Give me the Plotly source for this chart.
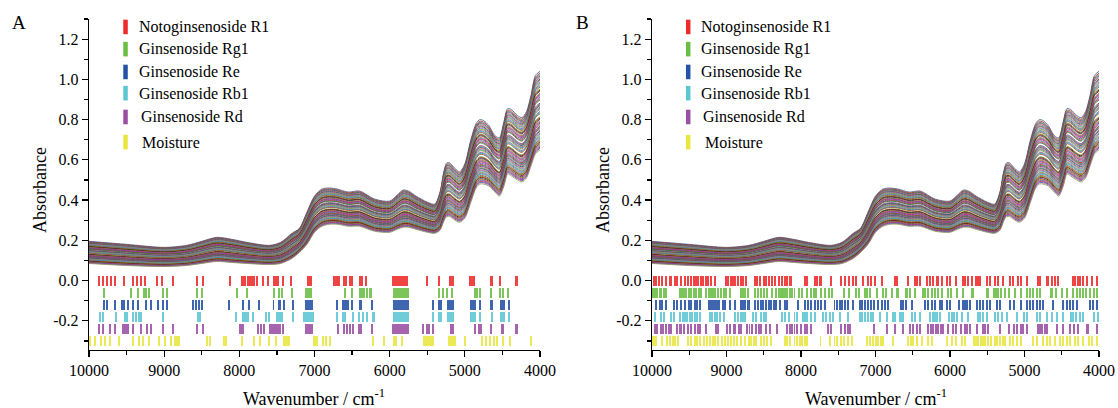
import plotly.graph_objects as go

# ---------------- spectra envelope ----------------
wn_knots = [10000, 9500, 9000, 8700, 8500, 8300, 8100, 7900, 7600, 7450, 7300, 7200, 7100, 7000,
            6900, 6800, 6700, 6550, 6400, 6200, 6000, 5900, 5820, 5750, 5650, 5500, 5400, 5330,
            5280, 5240, 5200, 5150, 5070, 5000, 4920, 4850, 4800, 4750, 4680, 4600, 4540, 4480, 4430,
            4380, 4300, 4240, 4180, 4120, 4060, 4000]
upper = [0.195, 0.18, 0.165, 0.175, 0.195, 0.215, 0.205, 0.19, 0.175, 0.19, 0.235, 0.26, 0.34, 0.42,
         0.455, 0.46, 0.455, 0.44, 0.445, 0.405, 0.395, 0.425, 0.45, 0.445, 0.42, 0.39, 0.38, 0.44,
         0.54, 0.585, 0.585, 0.565, 0.54, 0.58, 0.70, 0.78, 0.80, 0.795, 0.77, 0.72, 0.71, 0.79, 0.855,
         0.85, 0.82, 0.81, 0.84, 0.92, 1.02, 1.04]
lower = [0.085, 0.075, 0.07, 0.075, 0.085, 0.095, 0.09, 0.085, 0.08, 0.085, 0.11, 0.14, 0.18, 0.24,
         0.27, 0.28, 0.28, 0.27, 0.27, 0.245, 0.24, 0.255, 0.265, 0.265, 0.255, 0.24, 0.235, 0.25,
         0.295, 0.318, 0.318, 0.305, 0.29, 0.31, 0.39, 0.46, 0.48, 0.48, 0.47, 0.44, 0.42, 0.47, 0.53,
         0.52, 0.50, 0.49, 0.51, 0.57, 0.63, 0.65]
# relative position of each sample spectrum inside the band (0 = lowest, 1 = highest)
sample_pos = [1.0, 0.975, 0.955, 0.94, 0.92, 0.90, 0.885, 0.865, 0.85, 0.83, 0.815, 0.80, 0.775,
              0.76, 0.745, 0.72, 0.705, 0.69, 0.67, 0.65, 0.635, 0.595, 0.58, 0.565, 0.545, 0.53,
              0.515, 0.49, 0.475, 0.46, 0.42, 0.405, 0.39, 0.37, 0.355, 0.34, 0.32, 0.30, 0.285,
              0.27, 0.25, 0.235, 0.215, 0.20, 0.18, 0.165, 0.15, 0.13, 0.115, 0.10, 0.08, 0.065,
              0.05, 0.035, 0.02, 0.0]

# ---------------- selected variables (wavenumbers; [a, b] = block) ----------------
groups = ["Notoginsenoside R1", "Ginsenoside Rg1", "Ginsenoside Re",
          "Ginsenoside Rb1", "Ginsenoside Rd", "Moisture"]

R1_A = [9863, 9810, 9765, 9711, 9654, 9530, 9411, 9358, 9308, 9251, 9100, 9033, 8887, 8568, 8480, 8130,
        [7975, 7910], 7885, 7860, 7830, 7800, 7760, 7690, 7615, [7555, 7470], 7424, 7310, [7105, 7030],
        [6750, 6662], [6627, 6573], [6540, 6485], [6405, 6361], 6320, [5975, 5750], 5509, 5340,
        [5208, 5146], [4940, 4860], [4665, 4625], 4534, [4335, 4295]]
Rg1_A = [9797, 9443, 9342, 9266, 9245, 9198, 9012, 8960, 8558, 8500, 8036, 7900, 7535, 7470, 7428, 7298,
         [7125, 7030], 6596, 6507, [6405, 6361], 6338, 6307, [6272, 6241], [5953, 5740], 5346, 5290,
         5242, 5176, 4870, 4835, 4795, 4650, 4534, 4490, 4425]
Re_A = [9796, 9765, 9650, 9561, 9530, 9486, 9410, 9353, 9242, 9176, 9087, 9020, 8967, 8622, 8577, 8542,
        8502, 8134, [7965, 7934], 7868, 7744, [7558, 7535], [7491, 7447], 7402, 7291, [7123, 7017], 6706,
        [6640, 6573], 6551, 6507, [6405, 6374], 6241, [5962, 5740], 5421, [5354, 5310], [5243, 5146],
        [4933, 4845], 4800, [4667, 4623], [4534, 4468], 4410]
Rb1_A = [9854, 9809, 9641, [9530, 9486], 9410, 9375, 9340, 9309, 9012, [8568, 8511], 8045, [7965, 7877],
         7823, 7646, 7602, [7513, 7425], 7291, [7158, 7003], 6706, [6640, 6582], [6507, 6471], 6405, 6352,
         6307, [6241, 6197], [5962, 5740], 5421, [5354, 5310], [5235, 5146], [4933, 4845], 4800, 4645,
         [4534, 4468], 4410]
Rd_A = [9872, 9809, 9721, 9650, [9561, 9473], 9410, 9309, 9233, 9176, 9020, 8878, 8568, 8480,
        [8001, 7934], 7757, 7713, 7668, [7611, 7447], 7416, [7123, 7017], 6684, 6609, 6564, 6529, 6494,
        [6418, 6374], 6241, [5975, 5740], 5554, 5509, 5474, 5430, [5199, 5146], [4875, 4858],
        [4822, 4778], 4654, 4499, [4335, 4290]]
Moist_A = [9987, 9920, 9840, 9783, 9721, 9606, 9410, 9330, 9280, 9207, 9065, 8985, 8910, [8865, 8790],
           8435, 8391, [8214, 8170], 7967, 7808, 7720, 7611, 7515, [7416, 7327], [7017, 6950], 6890,
           6845, 6800, 6222, 6070, [5958, 5908], 5842, [5554, 5415], [5221, 5120], 4999, 4770, 4720,
           4670, 4615, 4578, 4490, 4395, [4135, 4113]]

R1_B = [9973, 9942, 9911, 9866, 9808, 9763, 9741, 9687, 9660, 9607, 9562, 9517, 9472, 9437, 9405, 9383,
        9338, 9316, 9271, 9249, 9204, 9159, 9003, 8980, 8935, 8913, 8882, 8846, 8801, 8779, 8734, 8622,
        8587, 8555, 8497, 8466, 8434, 8390, 8354, 8296, 8255, 8220, 8184, 8153, 8130, 7942, 7915, 7817,
        7781, 7750, 7728, 7602, 7459, 7414, 7361, 7302, 7258, 7168, 7101, 7065, 7010, 6917, 6738, 6716,
        6559, 6470, 6448, 6403, 6313, 6269, 6224, 6179, 6157, 6112, 6045, 6000, 5920, 5830, 5799, 5754,
        5709, 5651, 5620, 5598, 5508, 5463, 5396, 5352, 5293, 5195, 5150, 5083, 5052, 4971, 4815, 4792,
        4703, 4680, 4636, 4591, 4546, 4345, 4323, 4278, 4255, 4211, 4166, 4099, 4032]
Rg1_B = [9990, 9987, 9956, 9929, 9897, 9875, 9839, 9808, 9629, 9598, 9571, 9539, 9508, 9472, 9437, 9405,
         9374, 9338, 9271, 9240, 9213, 9182, 9150, 9114, 9079, 9034, 9003, 8958, 8810, 8779, 8748, 8712,
         8622, 8578, 8542, 8497, 8452, 8390, 8332, 8300, 8273, 8242, 8211, 8184, 8153, 8121, 8086, 8032,
         7987, 7915, 7862, 7830, 7795, 7728, 7674, 7629, 7584, 7423, 7361, 7258, 7226, 7146, 7110, 7079,
         6976, 6895, 6859, 6783, 6716, 6694, [6604, 6559], 6537, 6470, 6358, 6336, 6291, 6246, 6202,
         6157, 6112, 6023, 5991, 5902, 5830, 5709, 5687, 5508, 5486, 5410, 5383, 5352, 5320, 5262, 5204,
         5128, 5052, 4971, 4926, 4882, 4837, 4792, [4658, 4614], 4578, 4501, 4434, 4345, 4300, 4255,
         4211, 4175, 4121, 4067, 4032]
Re_B = [9942, 9897, 9866, 9808, 9705, 9660, 9607, 9562, 9508, 9472, 9428, 9392, 9360, 9240, 9213, 9182,
        9159, 9128, 9101, 9047, 9016, 8958, 8882, 8801, 8779, 8748, 8712, 8690, 8613, 8578, 8542, 8510,
        8466, 8434, 8399, 8363, 8332, 8287, 8220, 8184, 8041, 7942, 7907, 7871, 7817, 7772, 7728, 7683,
        7549, 7517, 7481, 7450, 7414, 7370, 7302, 7213, 7182, 7146, 7101, 7065, 7021, 6962, 6917, 6873,
        6828, 6662, 6627, 6591, 6515, 6336, 6291, 6246, 6202, 6134, 6112, 6036, 6000, 5875, 5830, 5799,
        5768, 5732, 5642, 5598, 5553, 5508, 5463, 5374, 5330, 5195, 5141, 5052, 4971, 4926, 4882, 4837,
        4792, 4748, [4625, 4600], 4479, 4434, 4390, 4345, 4300, 4121, 4077, 4032]
Rb1_B = [9965, 9875, 9839, 9741, 9705, 9629, 9585, 9562, 9526, 9495, 9463, 9428, 9396, 9360, 9226, 9195,
         9159, 9124, 9092, 9034, 8882, 8846, 8801, 8779, 8748, 8645, 8600, 8533, 8497, 8466, 8255, 8211,
         8166, 8086, 8050, 7974, 7951, 7915, 7862, 7808, 7705, 7660, 7616, 7571, 7481, 7369, 7213, 7182,
         7146, 7101, 7065, 7034, 6940, 6841, 6770, 6738, 6671, 6649, 6627, 6515, 6470, 6403, 6269, 6233,
         6202, 6170, 6134, 6009, 5978, 5946, 5911, 5844, 5754, 5620, 5598, 5553, 5508, 5396, 5352, 5307,
         5231, 5105, 5007, 4971, 4837, 4792, 4703, 4636, 4569, 4479, 4381, 4345, 4309, 4255, 4211, 4067,
         4009]
Rd_B = [9956, 9929, 9884, 9852, 9808, 9776, 9741, 9660, 9629, 9607, 9571, 9517, 9481, 9428, 9383, 9360,
        9271, 9137, 9114, 8989, 8958, 8900, 8882, 8837, 8801, 8721, 8690, 8658, 8600, 8569, 8533, 8466,
        8421, 8318, 8184, 8153, 8121, 8086, 8050, 7996, 7951, 7915, 7862, 7638, 7602, 7459, 7414, 7370,
        7347, 7020, 6850, 6738, 6627, 6537, 6492, 6448, 6403, 6291, 6260, 6224, 6188, 6157, 6125, 6099,
        6023, 5964, 5920, 5857, 5799, 5768, 5732, 5642, 5553, 5531, 5486, 5329, 5204, 5141, 5097, 5052,
        5016, 4971, 4815, 4792, 4770, 4725, 4703, 4569, 4479, 4390, 4336, 4278, 4166, 4144, 4032]
Moist_B = [9990, 9973, 9942, 9866, 9795, 9763, 9718, 9696, 9651, 9517, 9481, 9428, 9392, 9360, 9302, 9258,
           9226, 9182, 9150, 9114, 9061, 9016, 8980, 8936, 8900, 8855, 8810, 8757, 8703, 8667, 8631, 8600,
           8533, 8497, 8452, 8408, 8220, 8184, 8153, 8086, 8050, 8018, 7987, 7951, 7915, 7737, 7616, 7549,
           7513, 7468, 7423, 7369, 7316, 7110, 7079, 7034, 6993, 6962, 6931, 6895, 6770, 6559, 6528, 6492,
           6448, 6381, 6291, 6246, 6045, 5978, 5920, 5844, 5799, 5678, 5651, 5620, 5589, 5553, 5531, 5486,
           5455, 5396, 5365, 5329, 5293, 5262, 5195, 5150, 5105, 5052, 4882, 4837, 4748, 4703, 4658, 4591,
           4524, 4479, 4426, 4390, 4323, 4278, 4211, 4130, 4099, 4032]

rows_A = [R1_A, Rg1_A, Re_A, Rb1_A, Rd_A, Moist_A]
rows_B = [R1_B, Rg1_B, Re_B, Rb1_B, Rd_B, Moist_B]

x_ticks = [10000, 9000, 8000, 7000, 6000, 5000, 4000]
x_tick_text = ["10000", "9000", "8000", "7000", "6000", "5000", "4000"]
y_ticks = [-0.2, 0.0, 0.2, 0.4, 0.6, 0.8, 1.0, 1.2]
y_tick_text = ["-0.2", "0.0", "0.2", "0.4", "0.6", "0.8", "1.0", "1.2"]

# ---------------- styling ----------------
FONT = "Liberation Serif, Times New Roman, serif"
group_colors = ["#EE2B2B", "#6BBE45", "#2452A4", "#5CC6D3", "#9A4FA3", "#E9E63F"]
line_colors = ["#4a6a9a", "#b22222", "#2f7f3f", "#7d3c98", "#8b6f47", "#1f4e79", "#c0504d",
               "#4f81bd", "#7f9f3f", "#8064a2", "#2a9db8", "#a0522d", "#6b8e23", "#800000",
               "#2e4057", "#b5651d", "#5f5f8f", "#c71585"]
row_center = [0.0, -0.06, -0.12, -0.18, -0.24, -0.30]
row_h = 0.05

fig = go.Figure()

def bars_of(items, thin):
    xs, ws = [], []
    for it in items:
        if isinstance(it, list):
            a, b = it
            xs.append((a + b) / 2.0)
            ws.append(abs(a - b))
        else:
            xs.append(it)
            ws.append(thin)
    return xs, ws

panels = [("x", "y", rows_A, 27), ("x2", "y2", rows_B, 24)]
for xa, ya, rows, thin in panels:
    n = len(sample_pos)
    for i, w in enumerate(sample_pos):
        ys = [lo + w * (hi - lo) for lo, hi in zip(lower, upper)]
        if i == 0:
            col = "#4a6a9a"
        elif i == n - 1:
            col = "#9c9460"
        else:
            col = line_colors[i % len(line_colors)]
        fig.add_trace(go.Scatter(x=wn_knots, y=ys, mode="lines",
                                 line=dict(color=col, width=0.9, shape="spline", smoothing=0.8),
                                 xaxis=xa, yaxis=ya, showlegend=False, hoverinfo="skip"))
    for r, items in enumerate(rows):
        xs, ws = bars_of(items, thin)
        fig.add_trace(go.Bar(x=xs, y=[row_h] * len(xs), base=[row_center[r] - row_h / 2] * len(xs),
                             width=ws, marker=dict(color=group_colors[r], line=dict(width=0)),
                             opacity=0.88, xaxis=xa, yaxis=ya, showlegend=False, hoverinfo="skip",
                             name=groups[r]))

axis_common = dict(showgrid=False, zeroline=False, showline=True, linecolor="black", linewidth=1.2,
                   ticks="outside", ticklen=6, tickwidth=1.2, tickcolor="black", automargin=False,
                   tickfont=dict(family=FONT, size=16, color="black"))
xcommon = dict(axis_common, range=[10000, 4000], tickvals=x_ticks, ticktext=x_tick_text,
               minor=dict(tickvals=[9500, 8500, 7500, 6500, 5500, 4500], ticks="outside",
                          ticklen=3.5, tickwidth=1.2, tickcolor="black"))
ycommon = dict(axis_common, range=[-0.345, 1.3], tickvals=y_ticks, ticktext=y_tick_text,
               minor=dict(tickvals=[-0.3, -0.1, 0.1, 0.3, 0.5, 0.7, 0.9, 1.1, 1.3], ticks="outside",
                          ticklen=3.5, tickwidth=1.2, tickcolor="black"))

dom_A = [89 / 1118, 540 / 1118]
dom_B = [652 / 1118, 1099 / 1118]

fig.update_layout(
    template="none",
    width=1118, height=408,
    margin=dict(l=0, r=0, t=19, b=58, autoexpand=False),
    paper_bgcolor="white", plot_bgcolor="white",
    barmode="overlay", bargap=0,
    showlegend=False,
    xaxis=dict(xcommon, domain=dom_A, anchor="y"),
    yaxis=dict(ycommon, domain=[0, 1], anchor="x"),
    xaxis2=dict(xcommon, domain=dom_B, anchor="y2"),
    yaxis2=dict(ycommon, domain=[0, 1], anchor="x2"),
    font=dict(family=FONT, color="black"),
)

# legends (drawn inside each panel)
leg_y = [0.976, 0.909, 0.840, 0.776, 0.704, 0.628]
leg_text_dx = [0.0, 0.0, 0.0, 0.0, 0.004, 0.008]
for xa, ya in [("x", "y"), ("x2", "y2")]:
    for k, name in enumerate(groups):
        fig.add_shape(type="line", xref=xa + " domain", yref=ya + " domain",
                      x0=0.081, x1=0.081, y0=leg_y[k] - 0.022, y1=leg_y[k] + 0.022,
                      line=dict(color=group_colors[k], width=4.5))
        fig.add_annotation(xref=xa + " domain", yref=ya + " domain", x=0.106 + leg_text_dx[k],
                           y=leg_y[k], text=name, showarrow=False, xanchor="left", yanchor="middle",
                           font=dict(family=FONT, size=16, color="black"))

# panel letters & axis titles
for letter, px in [("A", 10), ("B", 574)]:
    fig.add_annotation(xref="paper", yref="paper", x=px / 1118, y=(350 - 22) / 331, text=letter,
                       showarrow=False, xanchor="left", yanchor="middle",
                       font=dict(family=FONT, size=19, color="black"))
for px in [40, 603]:
    fig.add_annotation(xref="paper", yref="paper", x=px / 1118, y=(350 - 190) / 331, text="Absorbance",
                       textangle=-90, showarrow=False, xanchor="center", yanchor="middle",
                       font=dict(family=FONT, size=18, color="black"))
for px in [314, 876]:
    fig.add_annotation(xref="paper", yref="paper", x=px / 1118, y=(350 - 397) / 331,
                       text="Wavenumber / cm<sup>-1</sup>", showarrow=False,
                       xanchor="center", yanchor="middle",
                       font=dict(family=FONT, size=18, color="black"))

fig.write_html("out.html", config={"displayModeBar": False, "staticPlot": True},
               post_script="document.body.style.margin='0';document.body.style.overflow='hidden';")
